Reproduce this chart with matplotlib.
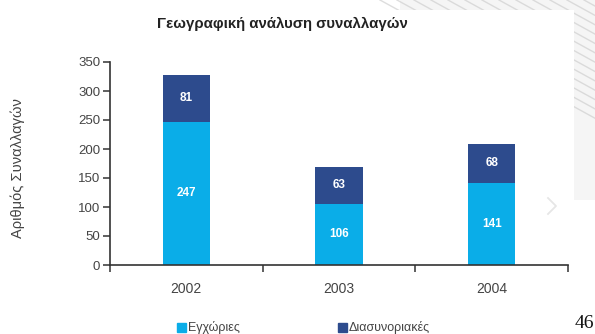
import numpy as np
import matplotlib
matplotlib.use('Agg')
import matplotlib.pyplot as plt
from matplotlib.patches import Rectangle, Patch

plt.rcParams['font.family'] = ['Liberation Sans', 'DejaVu Sans']

# Στοιχεία συναλλαγών ανά έτος
years = ['2002', '2003', '2004']
domestic = [247, 106, 141]
cross_border = [81, 63, 68]
series_names = ['Εγχώριες', 'Διασυνοριακές']

light_blue = '#0AADE8'
dark_blue = '#2D4B8D'
axis_color = '#333333'
text_color = '#444444'

fig = plt.figure(figsize=(5.95, 3.34), dpi=100)

# Φόντο διαφάνειας: γκρι ρίγες δεξιά και πάνω, λευκό πλαίσιο από πάνω
bg = fig.add_axes([0, 0, 1, 1], zorder=-1)
bg.set_xlim(0, 595)
bg.set_ylim(334, 0)
bg.axis('off')
bg.add_patch(Rectangle((400, 0), 195, 12, color='#f5f5f5', lw=0))
bg.add_patch(Rectangle((574, 0), 21, 230, color='#f5f5f5', lw=0))
for x0 in np.arange(380, 800, 17):
    bg.plot([x0, x0 + 260], [0, 143], color='#cfcfcf', lw=1.0, alpha=0.7)
bg.add_patch(Rectangle((0, 10), 574, 330, color='white', lw=0, zorder=3))
bg.add_patch(Rectangle((574, 200), 21, 140, color='white', lw=0, zorder=3))
bg.plot([548, 556, 548], [198, 206, 214], color='#e6e6e6', lw=1.3, zorder=4)

ax = fig.add_axes([110 / 595, 1 - 265 / 334, 458 / 595, 203 / 334])
ax.set_facecolor('none')

x = np.arange(len(years))
width = 0.31
b1 = ax.bar(x, domestic, width, color=light_blue, label=series_names[0])
b2 = ax.bar(x, cross_border, width, bottom=domestic, color=dark_blue,
            label=series_names[1])

for rect, v in zip(b1, domestic):
    ax.text(rect.get_x() + rect.get_width() / 2, v / 2, str(v),
            ha='center', va='center', color='white', fontsize=8.5,
            fontweight='bold')
for rect, v, base in zip(b2, cross_border, domestic):
    ax.text(rect.get_x() + rect.get_width() / 2, base + v / 2, str(v),
            ha='center', va='center', color='white', fontsize=8.5,
            fontweight='bold')

ax.set_xlim(-0.5, 2.5)
ax.set_ylim(0, 350)
ax.set_yticks(range(0, 351, 50))
ax.set_xticks(x)
ax.set_xticklabels(years)
ax.set_xticks([-0.5, 0.5, 1.5, 2.5], minor=True)

for s in ['top', 'right']:
    ax.spines[s].set_visible(False)
for s in ['left', 'bottom']:
    ax.spines[s].set_color(axis_color)
    ax.spines[s].set_linewidth(1.2)

ax.tick_params(axis='y', direction='out', length=5, width=1.1,
               color=axis_color, labelcolor=text_color, labelsize=9.5, pad=2)
ax.tick_params(axis='x', which='major', length=0, labelcolor=text_color,
               labelsize=10, pad=12)
ax.tick_params(axis='x', which='minor', direction='out', length=5,
               width=1.1, color=axis_color)

fig.text(282 / 595, 1 - 24 / 334, 'Γεωγραφική ανάλυση συναλλαγών',
         ha='center', va='center', fontsize=10.8, fontweight='bold',
         color='#222222')
fig.text(18 / 595, 1 - 168 / 334, 'Αριθμός Συναλλαγών', rotation=90,
         ha='center', va='center', fontsize=10.5, color=text_color)

handles = [Patch(color=light_blue), Patch(color=dark_blue)]
fig.legend(handles, series_names, loc='center left',
           bbox_to_anchor=(177 / 595, 0.018), ncol=2, frameon=False,
           fontsize=9, handlelength=0.75, handleheight=0.75,
           handletextpad=0.15, columnspacing=7.8, borderpad=0,
           borderaxespad=0, labelcolor=text_color)

fig.text(584 / 595, 1 - 324 / 334, '46', ha='center', va='center',
         fontsize=14, family='Liberation Serif', color='#111111')

plt.savefig('out.png', dpi=100)
